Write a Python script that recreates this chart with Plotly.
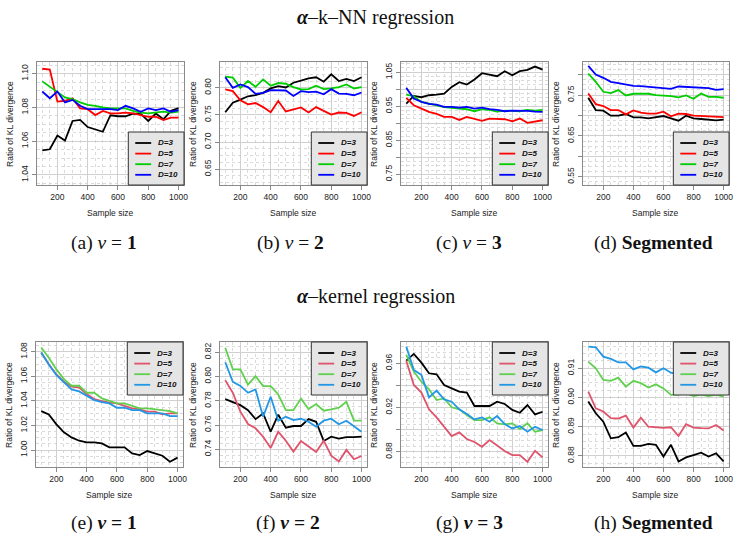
import plotly.graph_objects as go

# ---------------- data ----------------
sample_size = [100, 150, 200, 250, 300, 350, 400, 450, 500, 550, 600, 650, 700, 750, 800, 850, 900, 950, 1000]
series_names = ["D=3", "D=5", "D=7", "D=10"]

# alpha-kNN regression, nu = 1
knn1_d3 = [1.0546, 1.0552, 1.0634, 1.0604, 1.0720, 1.0726, 1.0684, 1.0670, 1.0656, 1.0754, 1.0748, 1.0748, 1.0764, 1.0762, 1.0720, 1.0764, 1.0730, 1.0780, 1.0796]
knn1_d5 = [1.1030, 1.1025, 1.0835, 1.0840, 1.0855, 1.0795, 1.0790, 1.0755, 1.0780, 1.0765, 1.0765, 1.0770, 1.0765, 1.0755, 1.0745, 1.0745, 1.0725, 1.0740, 1.0740]
knn1_d7 = [1.0955, 1.0925, 1.0890, 1.0860, 1.0850, 1.0830, 1.0815, 1.0810, 1.0800, 1.0795, 1.0795, 1.0795, 1.0780, 1.0770, 1.0765, 1.0770, 1.0775, 1.0770, 1.0775]
knn1_d10 = [1.0895, 1.0855, 1.0895, 1.0830, 1.0845, 1.0810, 1.0790, 1.0790, 1.0790, 1.0790, 1.0785, 1.0810, 1.0795, 1.0775, 1.0795, 1.0785, 1.0795, 1.0775, 1.0785]

# alpha-kNN regression, nu = 2
knn2_d3 = [0.7550, 0.7725, 0.7781, 0.7844, 0.7863, 0.7906, 0.7988, 0.8031, 0.8006, 0.8094, 0.8131, 0.8175, 0.8194, 0.8113, 0.8250, 0.8125, 0.8163, 0.8125, 0.8194]
knn2_d5 = [0.7969, 0.7938, 0.7769, 0.7694, 0.7719, 0.7644, 0.7550, 0.7756, 0.7563, 0.7600, 0.7638, 0.7544, 0.7644, 0.7575, 0.7506, 0.7544, 0.7538, 0.7481, 0.7550]
knn2_d7 = [0.8206, 0.8188, 0.8000, 0.8125, 0.8019, 0.8156, 0.8038, 0.8088, 0.8075, 0.8013, 0.7969, 0.7975, 0.8038, 0.7975, 0.7988, 0.8013, 0.8063, 0.7988, 0.8013]
knn2_d10 = [0.8194, 0.8000, 0.8063, 0.8013, 0.7888, 0.7906, 0.7956, 0.7950, 0.7950, 0.7850, 0.7938, 0.7919, 0.7931, 0.7881, 0.7975, 0.7894, 0.7888, 0.7863, 0.7913]

# alpha-kNN regression, nu = 3
knn3_d3 = [0.9578, 0.9804, 0.9765, 0.9823, 0.9843, 0.9872, 1.0068, 1.0206, 1.0137, 1.0284, 1.0470, 1.0431, 1.0382, 1.0529, 1.0411, 1.0529, 1.0568, 1.0666, 1.0578]
knn3_d5 = [0.9745, 0.9529, 0.9431, 0.9333, 0.9275, 0.9186, 0.9186, 0.9098, 0.9186, 0.9128, 0.9069, 0.9137, 0.9118, 0.9118, 0.9059, 0.9137, 0.9010, 0.9049, 0.9088]
knn3_d7 = [0.9843, 0.9794, 0.9627, 0.9569, 0.9529, 0.9471, 0.9451, 0.9431, 0.9412, 0.9353, 0.9412, 0.9392, 0.9343, 0.9373, 0.9373, 0.9353, 0.9392, 0.9373, 0.9392]
knn3_d10 = [1.0039, 0.9725, 0.9627, 0.9569, 0.9549, 0.9480, 0.9480, 0.9461, 0.9480, 0.9431, 0.9461, 0.9412, 0.9392, 0.9353, 0.9373, 0.9373, 0.9363, 0.9343, 0.9333]

# alpha-kNN regression, segmented
knnS_d3 = [0.7435, 0.7134, 0.7118, 0.6996, 0.6996, 0.7037, 0.6955, 0.6955, 0.6931, 0.6963, 0.6988, 0.6931, 0.6874, 0.6996, 0.6931, 0.6915, 0.6907, 0.6882, 0.6898]
knnS_d5 = [0.7541, 0.7280, 0.7232, 0.7134, 0.7134, 0.7028, 0.7126, 0.7069, 0.7045, 0.7045, 0.7093, 0.6980, 0.7045, 0.7037, 0.6996, 0.6988, 0.6988, 0.6972, 0.6963]
knnS_d7 = [0.8028, 0.7825, 0.7581, 0.7549, 0.7622, 0.7492, 0.7533, 0.7533, 0.7533, 0.7500, 0.7492, 0.7476, 0.7443, 0.7492, 0.7411, 0.7541, 0.7459, 0.7459, 0.7435]
knnS_d10 = [0.8215, 0.8004, 0.7923, 0.7825, 0.7793, 0.7760, 0.7728, 0.7720, 0.7703, 0.7703, 0.7687, 0.7654, 0.7711, 0.7703, 0.7703, 0.7695, 0.7671, 0.7630, 0.7646]

# alpha-kernel regression, nu = 1
ker1_d3 = [1.0317, 1.0290, 1.0209, 1.0144, 1.0103, 1.0076, 1.0062, 1.0062, 1.0054, 1.0022, 1.0022, 1.0022, 0.9973, 0.9959, 0.9992, 0.9970, 0.9954, 0.9905, 0.9938]
ker1_d5 = [1.0794, 1.0696, 1.0615, 1.0555, 1.0515, 1.0509, 1.0455, 1.0415, 1.0398, 1.0385, 1.0379, 1.0360, 1.0339, 1.0331, 1.0312, 1.0312, 1.0290, 1.0298, 1.0298]
ker1_d7 = [1.0835, 1.0751, 1.0656, 1.0577, 1.0523, 1.0523, 1.0466, 1.0466, 1.0420, 1.0398, 1.0379, 1.0379, 1.0360, 1.0339, 1.0339, 1.0333, 1.0325, 1.0317, 1.0298]
ker1_d10 = [1.0794, 1.0696, 1.0610, 1.0555, 1.0493, 1.0477, 1.0439, 1.0406, 1.0390, 1.0379, 1.0344, 1.0344, 1.0325, 1.0325, 1.0298, 1.0298, 1.0298, 1.0276, 1.0276]

# alpha-kernel regression, nu = 2
ker2_d3 = [0.7814, 0.7792, 0.7764, 0.7723, 0.7649, 0.7696, 0.7545, 0.7685, 0.7578, 0.7592, 0.7592, 0.7649, 0.7627, 0.7469, 0.7504, 0.7488, 0.7501, 0.7501, 0.7504]
ker2_d5 = [0.7970, 0.7866, 0.7710, 0.7608, 0.7573, 0.7504, 0.7411, 0.7545, 0.7471, 0.7381, 0.7469, 0.7422, 0.7378, 0.7471, 0.7348, 0.7299, 0.7395, 0.7318, 0.7345]
ker2_d7 = [0.8238, 0.8060, 0.8060, 0.7934, 0.8003, 0.7921, 0.7921, 0.7852, 0.7723, 0.7723, 0.7819, 0.7732, 0.7773, 0.7718, 0.7729, 0.7743, 0.7792, 0.7636, 0.7636]
ker2_d10 = [0.8118, 0.7956, 0.7923, 0.7866, 0.7893, 0.7669, 0.7833, 0.7636, 0.7669, 0.7641, 0.7652, 0.7627, 0.7586, 0.7636, 0.7652, 0.7606, 0.7636, 0.7592, 0.7545]

# alpha-kernel regression, nu = 3
ker3_d3 = [0.9624, 0.9685, 0.9606, 0.9510, 0.9501, 0.9404, 0.9374, 0.9344, 0.9335, 0.9214, 0.9214, 0.9214, 0.9253, 0.9232, 0.9178, 0.9153, 0.9223, 0.9138, 0.9162]
ker3_d5 = [0.9624, 0.9404, 0.9335, 0.9184, 0.9111, 0.9027, 0.8942, 0.8975, 0.8915, 0.8888, 0.8845, 0.8906, 0.8854, 0.8806, 0.8770, 0.8770, 0.8709, 0.8809, 0.8749]
ker3_d7 = [0.9676, 0.9525, 0.9434, 0.9365, 0.9268, 0.9283, 0.9202, 0.9184, 0.9132, 0.9087, 0.9087, 0.9111, 0.9057, 0.9048, 0.9057, 0.9005, 0.9057, 0.8981, 0.8996]
ker3_d10 = [0.9751, 0.9540, 0.9495, 0.9292, 0.9353, 0.9274, 0.9253, 0.9184, 0.9141, 0.9093, 0.9111, 0.9072, 0.9123, 0.9051, 0.9011, 0.9033, 0.8981, 0.9027, 0.8996]

# alpha-kernel regression, segmented
kerS_d3 = [0.8986, 0.8946, 0.8917, 0.8860, 0.8864, 0.8880, 0.8834, 0.8834, 0.8841, 0.8838, 0.8798, 0.8838, 0.8781, 0.8795, 0.8803, 0.8811, 0.8798, 0.8809, 0.8781]
kerS_d5 = [0.9020, 0.8963, 0.8952, 0.8929, 0.8928, 0.8938, 0.8897, 0.8931, 0.8900, 0.8897, 0.8896, 0.8898, 0.8868, 0.8909, 0.8897, 0.8895, 0.8894, 0.8906, 0.8887]
kerS_d7 = [0.9123, 0.9100, 0.9060, 0.9057, 0.9068, 0.9037, 0.9057, 0.9049, 0.9034, 0.9045, 0.9031, 0.9009, 0.9010, 0.9015, 0.9005, 0.9010, 0.9005, 0.9010, 0.9003]
kerS_d10 = [0.9174, 0.9172, 0.9140, 0.9132, 0.9120, 0.9120, 0.9096, 0.9106, 0.9102, 0.9086, 0.9100, 0.9085, 0.9080, 0.9075, 0.9070, 0.9072, 0.9068, 0.9065, 0.9060]

x_tickvals = [200, 400, 600, 800, 1000]
x_ticktext = ["200", "400", "600", "800", "1000"]

# y tick values / labels for each panel (R drops overlapping labels)
yt_knn1 = ([1.04, 1.06, 1.08, 1.10], ["1.04", "1.06", "1.08", "1.10"])
yt_knn2 = ([0.65, 0.70, 0.75, 0.80], ["0.65", "0.70", "0.75", "0.80"])
yt_knn3 = ([0.75, 0.80, 0.85, 0.90, 0.95, 1.00, 1.05], ["0.75", "", "0.85", "", "0.95", "", "1.05"])
yt_knnS = ([0.55, 0.60, 0.65, 0.70, 0.75, 0.80], ["0.55", "", "0.65", "", "0.75", ""])
yt_ker1 = ([1.00, 1.02, 1.04, 1.06, 1.08], ["1.00", "1.02", "1.04", "1.06", "1.08"])
yt_ker2 = ([0.74, 0.76, 0.78, 0.80, 0.82], ["0.74", "0.76", "0.78", "0.80", "0.82"])
yt_ker3 = ([0.88, 0.90, 0.92, 0.94, 0.96], ["0.88", "", "0.92", "", "0.96"])
yt_kerS = ([0.88, 0.89, 0.90, 0.91], ["0.88", "0.89", "0.90", "0.91"])

captions = ["(a) <i>ν</i> = <b>1</b>", "(b) <i>ν</i> = <b>2</b>", "(c) <i>ν</i> = <b>3</b>", "(d) <b>Segmented</b>",
            "(e) <b><i>ν</i> = 1</b>", "(f) <b><i>ν</i> = 2</b>", "(g) <b><i>ν</i> = 3</b>", "(h) <b>Segmented</b>"]

# ---------------- styling / layout ----------------
W, H = 740, 538
colors_old = ["#000000", "#FF0000", "#00CD00", "#0000FF"]
colors_new = ["#000000", "#DF536B", "#61D04F", "#2297E6"]

panels = [
    dict(series=[knn1_d3, knn1_d5, knn1_d7, knn1_d10], yr=[1.034, 1.107], yt=yt_knn1, ym=0.005, box=(37, 185, 62, 185), colors=colors_old, leg="bottom"),
    dict(series=[knn2_d3, knn2_d5, knn2_d7, knn2_d10], yr=[0.6207, 0.8476], yt=yt_knn2, ym=0.0125, box=(221, 369, 62, 185), colors=colors_old, leg="bottom"),
    dict(series=[knn3_d3, knn3_d5, knn3_d7, knn3_d10], yr=[0.7185, 1.080], yt=yt_knn3, ym=0.0125, box=(403, 551, 62, 185), colors=colors_old, leg="bottom"),
    dict(series=[knnS_d3, knnS_d5, knnS_d7, knnS_d10], yr=[0.530, 0.831], yt=yt_knnS, ym=0.0125, box=(586, 733, 62, 185), colors=colors_old, leg="bottom"),
    dict(series=[ker1_d3, ker1_d5, ker1_d7, ker1_d10], yr=[0.9862, 1.0879], yt=yt_ker1, ym=0.005, box=(36, 184, 342, 467), colors=colors_new, leg="top"),
    dict(series=[ker2_d3, ker2_d5, ker2_d7, ker2_d10], yr=[0.7254, 0.8285], yt=yt_ker2, ym=0.005, box=(221, 369, 342, 467), colors=colors_new, leg="top"),
    dict(series=[ker3_d3, ker3_d5, ker3_d7, ker3_d10], yr=[0.8662, 0.9793], yt=yt_ker3, ym=0.005, box=(403, 551, 342, 467), colors=colors_new, leg="top"),
    dict(series=[kerS_d3, kerS_d5, kerS_d7, kerS_d10], yr=[0.8762, 0.9190], yt=yt_kerS, ym=0.0025, box=(586, 733, 342, 467), colors=colors_new, leg="top"),
]
caption_x = [105, 292, 472, 657, 105, 290, 472, 657]

SANS = "Liberation Sans, Arial, sans-serif"
SERIF = "Liberation Serif, Times New Roman, serif"
TXT = "#222222"

fig = go.Figure()
layout = dict(width=W, height=H, margin=dict(l=0, r=0, t=0, b=0),
              paper_bgcolor="white", plot_bgcolor="white", showlegend=False)
shapes, annotations = [], []

for i, p in enumerate(panels, start=1):
    sfx = "" if i == 1 else str(i)
    l, r, t, b = p["box"]
    for name, ys, col in zip(series_names, p["series"], p["colors"]):
        fig.add_trace(go.Scatter(x=sample_size, y=ys, mode="lines", name=name,
                                 line=dict(color=col, width=1.8),
                                 xaxis="x" + sfx, yaxis="y" + sfx, showlegend=False))
    common = dict(showline=True, mirror=True, linecolor="#8a8a8a", linewidth=1,
                  ticks="outside", ticklen=4, tickcolor="#8a8a8a", zeroline=False,
                  showgrid=True, gridcolor="#d0d0d0", gridwidth=1,
                  tickfont=dict(family=SANS, size=8.5, color=TXT), fixedrange=True)
    layout["xaxis" + sfx] = dict(common, domain=[l / W, r / W], range=[64, 1036],
                                 tickmode="array", tickvals=x_tickvals, ticktext=x_ticktext,
                                 anchor="y" + sfx,
                                 minor=dict(dtick=50, tick0=0, showgrid=True, gridcolor="#dadada",
                                            griddash="dot", ticks=""))
    layout["yaxis" + sfx] = dict(common, domain=[1 - b / H, 1 - t / H], range=p["yr"],
                                 tickmode="array", tickvals=p["yt"][0], ticktext=p["yt"][1],
                                 tickangle=-90, anchor="x" + sfx,
                                 minor=dict(dtick=p["ym"], tick0=0, showgrid=True, gridcolor="#dadada",
                                            griddash="dot", ticks=""))
    # axis titles
    annotations.append(dict(text="Sample size", xref="paper", yref="paper",
                            x=(l + r) / 2 / W, y=1 - (b + 28) / H, showarrow=False,
                            xanchor="center", yanchor="middle",
                            font=dict(family=SANS, size=8.5, color=TXT)))
    annotations.append(dict(text="Ratio of KL divergence", xref="paper", yref="paper",
                            x=(l - 27.5) / W, y=1 - (t + b) / 2 / H, showarrow=False, textangle=-90,
                            xanchor="center", yanchor="middle",
                            font=dict(family=SANS, size=8.5, color=TXT)))
    # legend box (R-style, opaque, drawn over the lines)
    xr, yr_ = "x" + sfx + " domain", "y" + sfx + " domain"
    pw, ph = r - l, b - t
    bw, bh = 56, 53
    x0 = 1 - bw / pw
    y_top = bh / ph if p["leg"] == "bottom" else 1.0
    shapes.append(dict(type="rect", xref=xr, yref=yr_, x0=x0, x1=1, y0=y_top - bh / ph, y1=y_top,
                       fillcolor="#e5e5e5", line=dict(color="#333333", width=1), layer="above"))
    for k, (name, col) in enumerate(zip(series_names, p["colors"])):
        yy = y_top - (11.0 + 10.6 * k) / ph
        shapes.append(dict(type="line", xref=xr, yref=yr_, x0=x0 + 7 / pw, x1=x0 + 23 / pw,
                           y0=yy, y1=yy, line=dict(color=col, width=1.8), layer="above"))
        annotations.append(dict(text="<b><i>" + name + "</i></b>", xref=xr, yref=yr_,
                                x=x0 + 28 / pw, y=yy, showarrow=False, xanchor="left", yanchor="middle",
                                font=dict(family=SANS, size=8, color="#111111")))
    # caption
    annotations.append(dict(text=captions[i - 1], xref="paper", yref="paper",
                            x=caption_x[i - 1] / W, y=1 - (243 if i <= 4 else 523) / H,
                            showarrow=False, xanchor="center", yanchor="middle",
                            font=dict(family=SERIF, size=19.5, color="#111111")))

# row titles
annotations.append(dict(text="<b><i>α</i></b>–k–NN regression", xref="paper", yref="paper",
                        x=378 / W, y=1 - 17 / H, showarrow=False, xanchor="center", yanchor="middle",
                        font=dict(family=SERIF, size=20, color="#111111")))
annotations.append(dict(text="<b><i>α</i></b>–kernel regression", xref="paper", yref="paper",
                        x=378 / W, y=1 - 297 / H, showarrow=False, xanchor="center", yanchor="middle",
                        font=dict(family=SERIF, size=20, color="#111111")))

layout["shapes"] = shapes
layout["annotations"] = annotations
fig.update_layout(**layout)
fig.write_html("out.html", config={"displayModeBar": False},
               post_script="document.body.style.margin='0';document.body.style.overflow='hidden';")
